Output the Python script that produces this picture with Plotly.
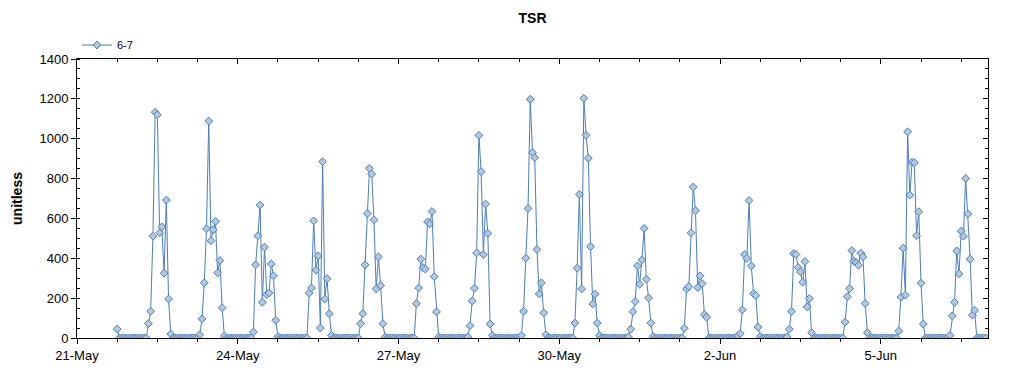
import pandas as pd
import plotly.graph_objects as go

# ---- data (hourly readings, zero outside the listed daylight hours) ----
series_start = "2024-05-21 18:00"
series_end = "2024-06-06 23:00"

day_dates = ["2024-05-21", "2024-05-22", "2024-05-23", "2024-05-24", "2024-05-25",
             "2024-05-26", "2024-05-27", "2024-05-28", "2024-05-29", "2024-05-30",
             "2024-05-31", "2024-06-01", "2024-06-02", "2024-06-03", "2024-06-04",
             "2024-06-05", "2024-06-06"]
first_hour = [18, 8, 7, 7, 8, 7, 8, 7, 7, 7, 7, 8, 8, 6, 8, 8, 7]

may21 = [45]
may22 = [72, 134, 511, 1133, 1120, 528, 558, 325, 692, 196, 20]
may23 = [17, 96, 277, 548, 1089, 488, 543, 585, 327, 389, 152, 10]
may24 = [30, 367, 513, 667, 179, 456, 218, 226, 372, 312, 89, 8]
may25 = [226, 251, 588, 340, 412, 50, 885, 196, 298, 122, 13]
may26 = [72, 122, 367, 625, 851, 823, 593, 246, 407, 263, 72, 5]
may27 = [173, 251, 396, 353, 346, 583, 573, 635, 308, 131, 5]
may28 = [5, 62, 186, 250, 427, 1017, 835, 419, 672, 525, 70, 13]
may29 = [13, 134, 401, 650, 1198, 930, 905, 444, 221, 277, 126, 17]
may30 = [75, 350, 721, 246, 1203, 1017, 902, 459, 171, 220, 75, 13]
may31 = [5, 44, 132, 183, 362, 270, 392, 550, 295, 201, 75, 8]
jun01 = [49, 246, 258, 528, 758, 639, 253, 312, 273, 117, 104]
jun02 = [12, 22, 141, 419, 399, 690, 362, 223, 213, 55, 8]
jun03 = [5, 44, 134, 424, 419, 354, 332, 280, 384, 156, 198, 27]
jun04 = [80, 208, 248, 439, 385, 379, 365, 426, 407, 173, 27]
jun05 = [35, 205, 451, 215, 1035, 717, 882, 880, 513, 634, 275, 70]
jun06 = [13, 111, 179, 437, 322, 536, 511, 801, 623, 396, 114, 139]

day_values = [may21, may22, may23, may24, may25, may26, may27, may28, may29,
              may30, may31, jun01, jun02, jun03, jun04, jun05, jun06]

x_range = ["2024-05-21", "2024-06-07"]
y_range = [0, 1400]

idx = pd.date_range(series_start, series_end, freq="h")
vals = pd.Series(0.0, index=idx)
for d, h, v in zip(day_dates, first_hour, day_values):
    t0 = pd.Timestamp(d) + pd.Timedelta(hours=h)
    t1 = t0 + pd.Timedelta(hours=len(v) - 1)
    vals.loc[t0:t1] = v

LINE = "#4a7ebb"
FILL = "#b3c7dd"
DAY = 86400000

fig = go.Figure()
fig.add_trace(go.Scatter(
    x=vals.index, y=vals.values, mode="lines+markers", name="6-7",
    line=dict(color=LINE, width=1),
    marker=dict(symbol="diamond", size=6, color=FILL, line=dict(color=LINE, width=1)),
))
# empty helper trace so the mirrored (top/right) axes are drawn
fig.add_trace(go.Scatter(x=[], y=[], xaxis="x2", yaxis="y2", showlegend=False,
                         hoverinfo="skip"))

axis_common = dict(showgrid=False, zeroline=False, showline=True,
                   linecolor="black", linewidth=1, tickcolor="black")

# the page body adds an 8px offset, so the figure is 1016x367 with shifted margins
fig.update_layout(
    width=1016, height=367,
    margin=dict(l=69, r=36, t=51, b=37, autoexpand=False),
    paper_bgcolor="white", plot_bgcolor="white",
    font=dict(family="Liberation Sans, Arial, sans-serif", size=13, color="black"),
    title=dict(text="<b>TSR</b>", xref="paper", x=0.5, xanchor="center",
               yref="container", y=1 - 10 / 367, yanchor="middle",
               font=dict(size=14, color="black")),
    showlegend=True,
    legend=dict(x=0, y=1.05, xanchor="left", yanchor="middle",
                orientation="h", font=dict(size=11), bgcolor="rgba(0,0,0,0)"),
    xaxis=dict(type="date", range=x_range, tickformat="%-d-%b",
               tick0="2024-05-21", dtick=3 * DAY, ticks="outside", ticklen=5,
               minor=dict(tick0="2024-05-21", dtick=18 * 3600000, ticks="outside",
                          ticklen=3, tickcolor="black", showgrid=False),
               tickfont=dict(size=13), **axis_common),
    yaxis=dict(range=y_range, dtick=200, ticks="outside", ticklen=5,
               minor=dict(dtick=50, ticks="inside", ticklen=3, tickcolor="black",
                          showgrid=False),
               title=dict(text="<b>unitless</b>", font=dict(size=14), standoff=13),
               tickfont=dict(size=13), **axis_common),
    xaxis2=dict(type="date", range=x_range, overlaying="x", side="top", anchor="y2",
                tick0="2024-05-21", dtick=3 * DAY, ticks="inside", ticklen=5,
                showticklabels=False,
                minor=dict(tick0="2024-05-21", dtick=18 * 3600000, ticks="inside",
                           ticklen=3, tickcolor="black", showgrid=False),
                **axis_common),
    yaxis2=dict(range=y_range, overlaying="y", side="right", anchor="x2",
                dtick=200, ticks="inside", ticklen=5, showticklabels=False,
                minor=dict(dtick=50, ticks="inside", ticklen=3, tickcolor="black",
                           showgrid=False),
                **axis_common),
)

fig.write_html("out.html")
